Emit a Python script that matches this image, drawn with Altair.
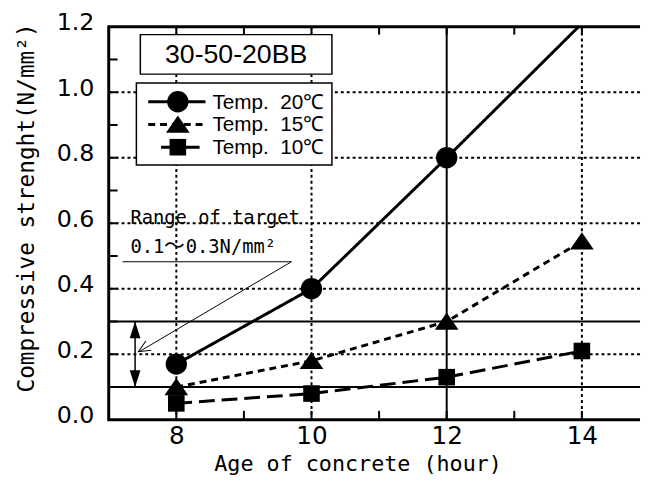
import altair as alt
import pandas as pd

# ---- data ----
hours = [8, 10, 12, 14]
temp20 = [0.17, 0.40, 0.80, 1.21]
temp15 = [0.10, 0.18, 0.30, 0.545]
temp10 = [0.05, 0.08, 0.13, 0.21]
series = ["Temp.\u00a0\u00a020℃", "Temp.\u00a0\u00a015℃", "Temp.\u00a0\u00a010℃"]

x_labels = [8, 10, 12, 14]
y_labels = [0.0, 0.2, 0.4, 0.6, 0.8, 1.0, 1.2]
x_minor = [8, 9, 10, 11, 12, 13, 14]
y_minor = [0.1, 0.2, 0.3, 0.4, 0.5, 0.6, 0.7, 0.8, 0.9, 1.0, 1.1]
grid_dotted_y = [0.2, 0.4, 0.6, 0.8, 1.0]
grid_solid_y = [0.1, 0.3]
grid_dotted_x = [8, 10, 14]
grid_solid_x = [12]
target_range = [0.1, 0.3]
title_box = "30-50-20BB"
ann_line1 = "Range of target"
ann_line2 = ["0.1", "～", "0.3N/mm²"]

rows = []
for s, vals in zip(series, [temp20, temp15, temp10]):
    for h, v in zip(hours, vals):
        rows.append({"hour": h, "value": v, "series": s})
df = pd.DataFrame(rows)

W, H = 538, 398
xs = alt.Scale(domain=[7, 14.86], nice=False, zero=False)
ys = alt.Scale(domain=[0, 1.2], nice=False, zero=False)

xaxis = alt.Axis(values=x_labels, ticks=False, grid=False, domain=False,
                 labelFont="DejaVu Sans", labelFontSize=25, labelColor="black", labelPadding=4,
                 title="Age of concrete (hour)", titleFont="DejaVu Sans Mono", titleFontSize=22,
                 titleFontWeight="normal", titleColor="black", titleX=252, titleY=44,
                 titleBaseline="middle", titleAlign="center")
yaxis = alt.Axis(values=y_labels, format=".1f", ticks=False, grid=False, domain=False,
                 labelFont="DejaVu Sans", labelFontSize=24, labelColor="black", labelPadding=15,
                 labelOffset=-4,
                 title="Compressive strenght(N/mm²)", titleFont="DejaVu Sans Mono", titleFontSize=23,
                 titleFontWeight="normal", titleColor="black", titleAngle=270, titleX=-83, titleY=183,
                 titleBaseline="middle", titleAlign="center")


def X(f):
    return alt.X(f + ":Q", scale=xs, axis=xaxis)


def Y(f):
    return alt.Y(f + ":Q", scale=ys, axis=yaxis)


one = pd.DataFrame({"a": [0]})

grid_dy = alt.Chart(pd.DataFrame({"value": grid_dotted_y})).mark_rule(
    color="black", strokeWidth=2, strokeDash=[3, 3]).encode(y=Y("value"))
grid_sy = alt.Chart(pd.DataFrame({"value": grid_solid_y})).mark_rule(
    color="black", strokeWidth=2).encode(y=Y("value"))
grid_dx = alt.Chart(pd.DataFrame({"hour": grid_dotted_x})).mark_rule(
    color="black", strokeWidth=2, strokeDash=[3, 3]).encode(x=X("hour"))
grid_sx = alt.Chart(pd.DataFrame({"hour": grid_solid_x})).mark_rule(
    color="black", strokeWidth=2).encode(x=X("hour"))

top_border = alt.Chart(one).mark_rule(color="black", strokeWidth=3).encode(
    y=alt.value(0), x=alt.value(-1), x2=alt.value(W))
bottom_border = alt.Chart(one).mark_rule(color="black", strokeWidth=3).encode(
    y=alt.value(H), x=alt.value(-1), x2=alt.value(W))
left_border = alt.Chart(one).mark_rule(color="black", strokeWidth=3).encode(
    x=alt.value(0), y=alt.value(-1), y2=alt.value(H + 1))

yt = alt.Chart(pd.DataFrame({"value": y_minor})).mark_rule(color="black", strokeWidth=2).encode(
    y=Y("value"), x=alt.value(1), x2=alt.value(9))
xt_b = alt.Chart(pd.DataFrame({"hour": x_minor})).mark_rule(color="black", strokeWidth=2).encode(
    x=X("hour"), y=alt.value(H - 1), y2=alt.value(H - 9))
xt_t = alt.Chart(pd.DataFrame({"hour": x_minor})).mark_rule(color="black", strokeWidth=2).encode(
    x=X("hour"), y=alt.value(0), y2=alt.value(8))

CIRCLE = "M-0.9,0A0.9,0.9 0 1,0 0.9,0A0.9,0.9 0 1,0 -0.9,0Z"
TRI = "M0,-0.75L1,0.7L-1,0.7Z"
SQUARE = "M-0.7,-0.7L0.7,-0.7L0.7,0.7L-0.7,0.7Z"
shapes = [CIRCLE, TRI, SQUARE]
dashes = [[1, 0], [7, 5], [16, 7]]

lines = alt.Chart(df).mark_line(clip=True, color="black", strokeWidth=3).encode(
    x=X("hour"), y=Y("value"),
    strokeDash=alt.StrokeDash("series:N", scale=alt.Scale(domain=series, range=dashes), legend=None),
    detail="series:N")
points = alt.Chart(df).transform_filter("datum.value <= 1.2").mark_point(
    filled=True, color="black", opacity=1, size=576).encode(
    x=X("hour"), y=Y("value"),
    shape=alt.Shape("series:N", scale=alt.Scale(domain=series, range=shapes), legend=None))

# title box
tbox = alt.Chart(one).mark_rect(fill="white", stroke="black", strokeWidth=1.5).encode(
    x=alt.value(32), x2=alt.value(226), y=alt.value(8), y2=alt.value(48))
ttext = alt.Chart(one).mark_text(font="Liberation Sans", fontSize=27, align="center", baseline="middle",
                                 color="black").encode(x=alt.value(129), y=alt.value(29),
                                                       text=alt.value(title_box))
# legend box
lbox = alt.Chart(one).mark_rect(fill="white", stroke="black", strokeWidth=1.5).encode(
    x=alt.value(28), x2=alt.value(226), y=alt.value(57), y2=alt.value(140))
legend_layers = []
row_y = [76, 99, 122]
line_x = [(40, 98), (40, 98), (53, 95)]
for i in range(3):
    legend_layers.append(alt.Chart(one).mark_rule(color="black", strokeWidth=3, strokeDash=dashes[i]).encode(
        x=alt.value(line_x[i][0]), x2=alt.value(line_x[i][1]), y=alt.value(row_y[i])))
    legend_layers.append(alt.Chart(one).mark_point(filled=True, color="black", opacity=1, size=576,
                                                   shape=shapes[i]).encode(
        x=alt.value(70), y=alt.value(row_y[i])))
    legend_layers.append(alt.Chart(one).mark_text(font="Liberation Sans", fontSize=21, align="left",
                                                  baseline="middle", color="black").encode(
        x=alt.value(105), y=alt.value(row_y[i] + 1), text=alt.value(series[i])))

# range annotation
arr_x = 7.39
darrow = alt.Chart(pd.DataFrame({"value": [target_range[0]], "value2": [target_range[1]], "hour": [arr_x]})).mark_rule(
    color="black", strokeWidth=1.5).encode(x=X("hour"), y=Y("value"), y2="value2:Q")
head_up = alt.Chart(pd.DataFrame({"value": [target_range[1]], "hour": [arr_x]})).mark_point(
    filled=True, color="black", opacity=1, size=1156, shape="M0,0L-0.32,1L0.32,1Z").encode(x=X("hour"), y=Y("value"))
head_dn = alt.Chart(pd.DataFrame({"value": [target_range[0]], "hour": [arr_x]})).mark_point(
    filled=True, color="black", opacity=1, size=1156, shape="M0,0L-0.32,-1L0.32,-1Z").encode(x=X("hour"), y=Y("value"))

ann1 = alt.Chart(one).mark_text(font="DejaVu Sans Mono", fontSize=19, align="left", baseline="alphabetic",
                                color="black").encode(x=alt.value(22), y=alt.value(200), text=alt.value(ann_line1))
ann2a = alt.Chart(one).mark_text(font="DejaVu Sans Mono", fontSize=19, align="left", baseline="alphabetic",
                                 color="black").encode(x=alt.value(22), y=alt.value(229), text=alt.value(ann_line2[0]))
ann2b = alt.Chart(one).mark_text(font="Noto Sans CJK JP", fontSize=21, align="left", baseline="alphabetic",
                                 color="black").encode(x=alt.value(56), y=alt.value(229), text=alt.value(ann_line2[1]))
ann2c = alt.Chart(one).mark_text(font="DejaVu Sans Mono", fontSize=19, align="left", baseline="alphabetic",
                                 color="black").encode(x=alt.value(78), y=alt.value(229), text=alt.value(ann_line2[2]))
uline = alt.Chart(one).mark_rule(color="black", strokeWidth=1).encode(
    x=alt.value(14), x2=alt.value(185), y=alt.value(238))
pointer = alt.Chart(one).mark_rule(color="black", strokeWidth=1).encode(
    x=alt.value(185), y=alt.value(238), x2=alt.value(31), y2=alt.value(329))
chevron = alt.Chart(one).mark_point(filled=False, color="black", strokeWidth=1, opacity=1, size=576,
                                    shape="M-1,-0.45L0,0L-1,0.45", angle=149.6).encode(
    x=alt.value(30), y=alt.value(329))

chart = alt.layer(
    grid_dy, grid_sy, grid_dx, grid_sx, yt, xt_b, xt_t,
    lines, points, tbox, ttext, lbox, *legend_layers,
    darrow, head_up, head_dn, ann1, ann2a, ann2b, ann2c, uline, pointer, chevron,
    top_border, bottom_border, left_border
).properties(
    width=W, height=H,
    autosize=alt.AutoSizeParams(type="none"),
    padding={"left": 102, "top": 16, "right": 1, "bottom": 55},
    background="white",
).configure_view(stroke=None)

chart.save("out.html", embed_options={"renderer": "svg", "actions": False})
